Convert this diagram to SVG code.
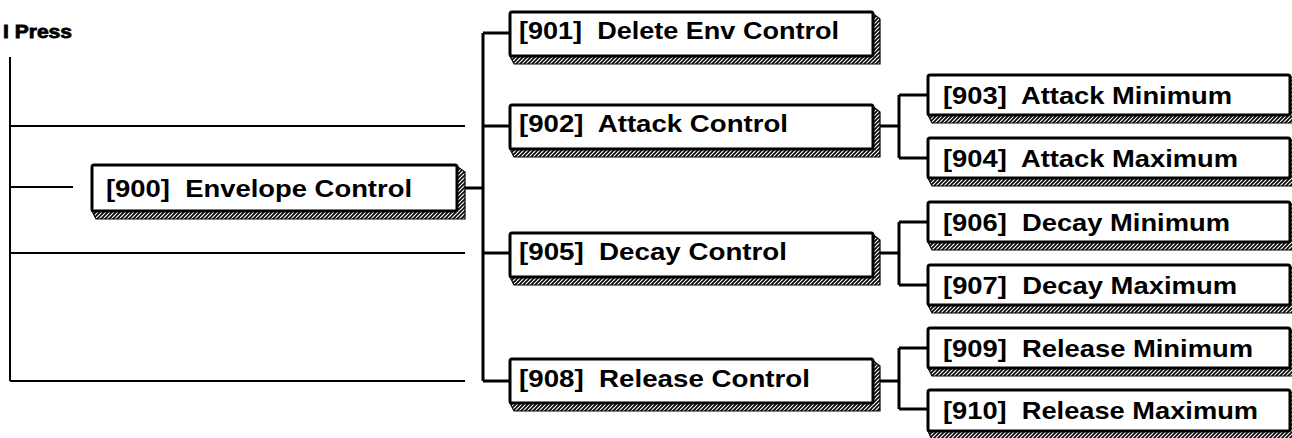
<svg xmlns="http://www.w3.org/2000/svg" width="1292" height="438" viewBox="0 0 1292 438">
<style>
.box{fill:#fff;stroke:#000;stroke-width:3}
.sh{fill:url(#hatch);stroke:#000;stroke-width:1.2}
.lbl{font-family:"Liberation Sans",Arial,sans-serif;font-weight:bold;font-size:24px;fill:#000;white-space:pre}
.title{font-family:"Liberation Sans",Arial,sans-serif;font-weight:bold;font-size:19px;fill:#000;stroke:#000;stroke-width:0.8}
.wire{stroke:#000;stroke-width:3;fill:none}
.thin{stroke:#000;stroke-width:2;fill:none}
</style>
<defs>
<pattern id="hatch" width="4" height="4" patternUnits="userSpaceOnUse">
<rect width="4" height="4" fill="#fff"/>
<path d="M-1,1 L1,-1 M0,4 L4,0 M3,5 L5,3" stroke="#000" stroke-width="1.6"/>
</pattern>
</defs>
<rect width="1292" height="438" fill="#fff"/>

<text class="title" x="3" y="38" textLength="69" lengthAdjust="spacingAndGlyphs">I Press</text>

<g id="connectors">
<path class="thin" d="M10,57 V381 M10,126 H465 M10,187 H73 M10,253 H465 M10,381 H465"/>
<path class="wire" d="M465,188 H483 M483,33 V381 M483,33 H510 M483,126 H510 M483,253 H510 M483,381 H510"/>
<path class="wire" d="M880,126 H899 M899,95 V158 M899,95 H928 M899,158 H928"/>
<path class="wire" d="M880,253 H899 M899,222 V285 M899,222 H928 M899,285 H928"/>
<path class="wire" d="M880,381 H899 M899,348 V409 M899,348 H928 M899,409 H928"/>
</g>

<g id="n900">
<path class="sh" d="M455,165 L465,172 L465,219 L96,219 L92,211 Z"/>
<rect class="box" x="92" y="165" width="365" height="46" rx="2"/>
<text class="lbl" xml:space="preserve" x="106" y="197" textLength="306" lengthAdjust="spacingAndGlyphs">[900]  Envelope Control</text>
</g>

<g id="n901">
<path class="sh" d="M871,12 L880,19 L880,64 L514,64 L510,56 Z"/>
<rect class="box" x="510" y="12" width="363" height="44" rx="2"/>
<text class="lbl" xml:space="preserve" x="519" y="39" textLength="320" lengthAdjust="spacingAndGlyphs">[901]  Delete Env Control</text>
</g>

<g id="n902">
<path class="sh" d="M871,105 L880,112 L880,157 L514,157 L510,149 Z"/>
<rect class="box" x="510" y="105" width="363" height="44" rx="2"/>
<text class="lbl" xml:space="preserve" x="519" y="132" textLength="269" lengthAdjust="spacingAndGlyphs">[902]  Attack Control</text>
</g>

<g id="n905">
<path class="sh" d="M871,233 L880,240 L880,285 L514,285 L510,277 Z"/>
<rect class="box" x="510" y="233" width="363" height="44" rx="2"/>
<text class="lbl" xml:space="preserve" x="519" y="260" textLength="268" lengthAdjust="spacingAndGlyphs">[905]  Decay Control</text>
</g>

<g id="n908">
<path class="sh" d="M871,359 L880,366 L880,411 L514,411 L510,403 Z"/>
<rect class="box" x="510" y="359" width="363" height="44" rx="2"/>
<text class="lbl" xml:space="preserve" x="519" y="387" textLength="291" lengthAdjust="spacingAndGlyphs">[908]  Release Control</text>
</g>

<g id="n903">
<path class="sh" d="M1288,75 L1298,82 L1298,123 L932,123 L928,115 Z"/>
<rect class="box" x="928" y="75" width="362" height="40" rx="2"/>
<text class="lbl" xml:space="preserve" x="943" y="104" textLength="289" lengthAdjust="spacingAndGlyphs">[903]  Attack Minimum</text>
</g>

<g id="n904">
<path class="sh" d="M1288,138 L1298,145 L1298,186 L932,186 L928,178 Z"/>
<rect class="box" x="928" y="138" width="362" height="40" rx="2"/>
<text class="lbl" xml:space="preserve" x="943" y="167" textLength="295" lengthAdjust="spacingAndGlyphs">[904]  Attack Maximum</text>
</g>

<g id="n906">
<path class="sh" d="M1288,202 L1298,209 L1298,250 L932,250 L928,242 Z"/>
<rect class="box" x="928" y="202" width="362" height="40" rx="2"/>
<text class="lbl" xml:space="preserve" x="943" y="231" textLength="287" lengthAdjust="spacingAndGlyphs">[906]  Decay Minimum</text>
</g>

<g id="n907">
<path class="sh" d="M1288,265 L1298,272 L1298,313 L932,313 L928,305 Z"/>
<rect class="box" x="928" y="265" width="362" height="40" rx="2"/>
<text class="lbl" xml:space="preserve" x="943" y="294" textLength="294" lengthAdjust="spacingAndGlyphs">[907]  Decay Maximum</text>
</g>

<g id="n909">
<path class="sh" d="M1288,328 L1298,335 L1298,376 L932,376 L928,368 Z"/>
<rect class="box" x="928" y="328" width="362" height="40" rx="2"/>
<text class="lbl" xml:space="preserve" x="943" y="357" textLength="310" lengthAdjust="spacingAndGlyphs">[909]  Release Minimum</text>
</g>

<g id="n910">
<path class="sh" d="M1288,390 L1298,397 L1298,440 L932,440 L928,431 Z"/>
<rect class="box" x="928" y="390" width="362" height="41" rx="2"/>
<text class="lbl" xml:space="preserve" x="943" y="419" textLength="315" lengthAdjust="spacingAndGlyphs">[910]  Release Maximum</text>
</g>
</svg>
